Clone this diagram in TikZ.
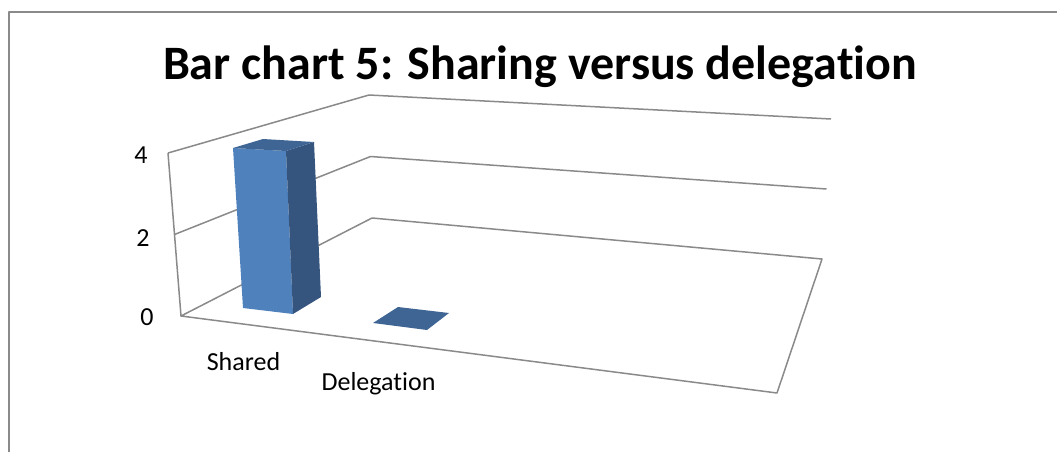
\documentclass[tikz,border=0pt]{standalone}
\usepackage{fontspec}
\setmainfont[Ligatures=NoCommon]{Carlito}
\usetikzlibrary{positioning,calc}

\definecolor{frente}{HTML}{4F81BD}
\definecolor{lado}{HTML}{35557F}
\definecolor{topo}{HTML}{3E6594}
\definecolor{linha}{HTML}{8A8A8A}

\begin{document}
\begin{tikzpicture}[x=1pt, y=-1pt, line join=round]
    % Estilos
    \tikzstyle{grade}=[draw=linha, line width=1.5pt]
    \tikzstyle{rotulo}=[font=\fontsize{26}{30}\selectfont, inner sep=0pt]

    \useasboundingbox (0,0) rectangle (1057,452);

    % Moldura
    \draw[draw=linha, line width=2.2pt] (9,452) -- (9,12) -- (1057,12);

    % Titulo
    \node[font=\fontsize{48}{54}\selectfont\bfseries, anchor=base] (titulo) at (540,79) {Bar chart 5: Sharing versus delegation};

    % Cantos
    \coordinate (o) at (181,316);
    \coordinate (a4) at (168,153);
    \coordinate (a2) at ($(o)!0.5!(a4)$);
    \coordinate (b0) at (372,218);
    \coordinate (b4) at (369,95);
    \coordinate (b2) at ($(b0)!0.5!(b4)$);
    \coordinate (c0) at (822,259);
    \coordinate (c4) at (831,119);
    \coordinate (c2) at ($(c0)!0.5!(c4)$);
    \coordinate (f0) at (777,393);

    % Grade
    \draw[grade] (a4) -- (b4) -- (c4);
    \draw[grade] (a2) -- (b2) -- (c2);
    \draw[grade] (a4) -- (o) -- (b0) -- (c0) -- (f0) -- (o);

    % Barras
    \fill[frente] (233,148) -- (286,151) -- (293,314) -- (243,308) -- cycle;
    \fill[lado] (286,151) -- (314,142) -- (321,297) -- (293,314) -- cycle;
    \fill[topo] (233,148) -- (263,139) -- (314,142) -- (286,151) -- cycle;
    \fill[topo] (373,323) -- (398,307) -- (449,313) -- (427,330) -- cycle;

    % Rotulos
    \node[rotulo] (v4) at (141,155) {4};
    \node[rotulo] (v2) at (143,238) {2};
    \node[rotulo] (v0) at (147,317) {0};
    \node[rotulo, anchor=base] (shared) at (243.5,370) {Shared};
    \node[rotulo, anchor=base] (delegation) at (378.5,390) {Delegation};
\end{tikzpicture}
\end{document}
